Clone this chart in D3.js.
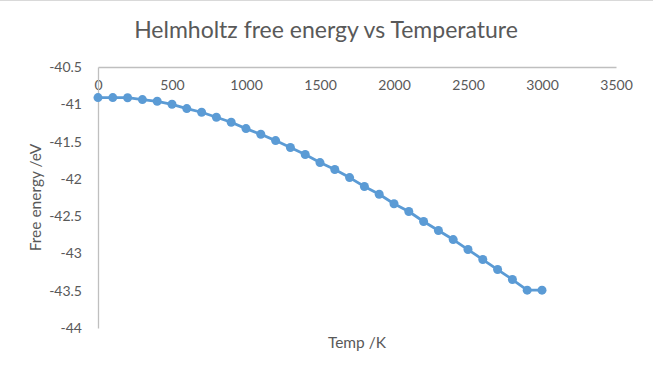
<!DOCTYPE html>
<html>
<head>
<meta charset="utf-8">
<script src="https://cdn.jsdelivr.net/npm/d3@7"></script>
<style>
  body { margin: 0; background: #fff; }
  svg { display: block; font-family: Lato, "Open Sans", sans-serif; }
</style>
</head>
<body>
<div id="chart"></div>
<script>
// Data
const temps = [0, 100, 200, 300, 400, 500, 600, 700, 800, 900, 1000,
    1100, 1200, 1300, 1400, 1500, 1600, 1700, 1800, 1900, 2000,
    2100, 2200, 2300, 2400, 2500, 2600, 2700, 2800, 2900, 3000];
const energies = [-40.91, -40.91, -40.912, -40.937, -40.96, -41.0, -41.058, -41.107, -41.174, -41.241, -41.326,
    -41.402, -41.487, -41.58, -41.674, -41.782, -41.875, -41.983, -42.103, -42.206, -42.334,
    -42.438, -42.572, -42.693, -42.814, -42.948, -43.082, -43.216, -43.35, -43.493, -43.493];
const xTicks = [0, 500, 1000, 1500, 2000, 2500, 3000, 3500];
const yTicks = [-40.5, -41, -41.5, -42, -42.5, -43, -43.5, -44];

const width = 653;
const height = 371;
const textColor = '#595959';
const lineColor = '#5B9BD5';

const plot = { left: 98, right: 616, top: 67, bottom: 328 };

const svg = d3.select('#chart')
    .append('svg')
    .attr('width', width)
    .attr('height', height);

// thin border line at top, as in the screenshot
svg.append('line')
    .attr('x1', 0).attr('x2', width)
    .attr('y1', 0.5).attr('y2', 0.5)
    .attr('stroke', '#d9d9d9');

const xScale = d3.scaleLinear().domain([0, 3500]).range([plot.left, plot.right]);
const yScale = d3.scaleLinear().domain([-40.5, -44]).range([plot.top, plot.bottom]);

// Title
svg.append('text')
    .attr('x', 326)
    .attr('y', 38)
    .attr('text-anchor', 'middle')
    .attr('fill', textColor)
    .style('font-size', '23px')
    .text('Helmholtz free energy vs Temperature');

// X axis (sits at the top because values are negative)
const xAxis = svg.append('g')
    .attr('transform', `translate(0, ${plot.top})`)
    .call(d3.axisBottom(xScale).tickValues(xTicks).tickSize(0).tickPadding(13).tickFormat(d => String(d)));
xAxis.select('.domain').attr('stroke', '#bfbfbf').attr('stroke-width', 1.3);
xAxis.selectAll('text').attr('fill', textColor).style('font-size', '14px').style('font-family', 'Lato, sans-serif');

// Y axis
const yAxis = svg.append('g')
    .attr('transform', `translate(${plot.left}, 0)`)
    .call(d3.axisLeft(yScale).tickValues(yTicks).tickSize(0).tickPadding(16).tickFormat(d => String(d)));
yAxis.select('.domain').attr('stroke', '#bfbfbf').attr('stroke-width', 1.3);
yAxis.selectAll('text').attr('fill', textColor).style('font-size', '14px').style('font-family', 'Lato, sans-serif');

// Axis titles
svg.append('text')
    .attr('x', (plot.left + plot.right) / 2)
    .attr('y', 348)
    .attr('text-anchor', 'middle')
    .attr('fill', textColor)
    .style('font-size', '15.5px')
    .text('Temp /K');

svg.append('text')
    .attr('transform', `translate(41, ${(plot.top + plot.bottom) / 2}) rotate(-90)`)
    .attr('text-anchor', 'middle')
    .attr('fill', textColor)
    .style('font-size', '15.5px')
    .text('Free energy /eV');

// Series
const points = temps.map((t, i) => ({ t, e: energies[i] }));

const line = d3.line()
    .x(d => xScale(d.t))
    .y(d => yScale(d.e));

svg.append('path')
    .datum(points)
    .attr('d', line)
    .attr('fill', 'none')
    .attr('stroke', lineColor)
    .attr('stroke-width', 2.8)
    .attr('stroke-linejoin', 'round');

svg.append('g')
    .selectAll('circle')
    .data(points)
    .join('circle')
    .attr('cx', d => xScale(d.t))
    .attr('cy', d => yScale(d.e))
    .attr('r', 4.5)
    .attr('fill', lineColor);
</script>
</body>
</html>
